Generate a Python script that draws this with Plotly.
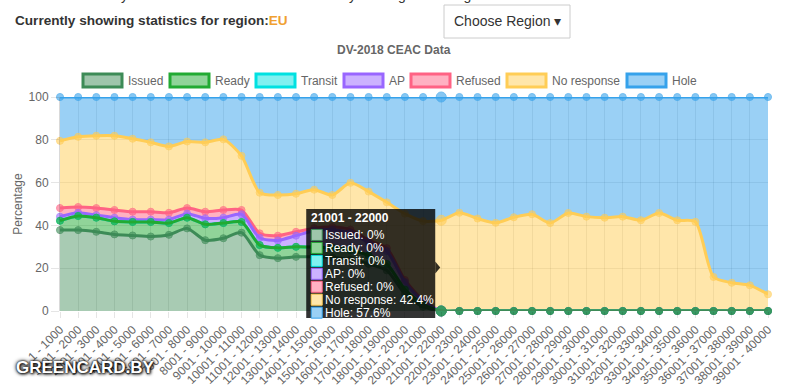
import numpy as np
import plotly.graph_objects as go

# ---------------- data ----------------
categories = [
    "1 - 1000", "1001 - 2000", "2001 - 3000", "3001 - 4000", "4001 - 5000",
    "5001 - 6000", "6001 - 7000", "7001 - 8000", "8001 - 9000", "9001 - 10000",
    "10001 - 11000", "11001 - 12000", "12001 - 13000", "13001 - 14000", "14001 - 15000",
    "15001 - 16000", "16001 - 17000", "17001 - 18000", "18001 - 19000", "19001 - 20000",
    "20001 - 21000", "21001 - 22000", "22001 - 23000", "23001 - 24000", "24001 - 25000",
    "25001 - 26000", "26001 - 27000", "27001 - 28000", "28001 - 29000", "29001 - 30000",
    "30001 - 31000", "31001 - 32000", "32001 - 33000", "33001 - 34000", "34001 - 35000",
    "35001 - 36000", "36001 - 37000", "37001 - 38000", "38001 - 39000", "39001 - 40000",
]

issued = [37.8, 37.8, 37.0, 35.8, 35.3, 34.8, 35.6, 38.6, 33.1, 34.0,
          36.6, 26.1, 24.7, 25.3, 25.3, 25.0, 24.0, 22.0, 19.0, 8.0,
          2.0, 0, 0, 0, 0, 0, 0, 0, 0, 0,
          0, 0, 0, 0, 0, 0, 0, 0, 0, 0]
ready = [4.4, 6.6, 6.6, 6.1, 6.3, 6.8, 5.5, 5.0, 7.4, 7.1,
         5.0, 4.7, 4.8, 4.7, 4.5, 4.5, 4.5, 4.0, 3.0, 2.0,
         1.0, 0, 0, 0, 0, 0, 0, 0, 0, 0,
         0, 0, 0, 0, 0, 0, 0, 0, 0, 0]
transit = [0, 0, 0, 0, 0, 0, 0, 0, 0, 0,
           0, 0, 0, 0, 0, 0, 0, 0, 0, 0,
           0, 0, 0, 0, 0, 0, 0, 0, 0, 0,
           0, 0, 0, 0, 0, 0, 0, 0, 0, 0]
ap = [1.9, 1.5, 1.2, 1.7, 1.1, 1.1, 1.6, 1.9, 2.8, 2.5,
      3.6, 3.4, 3.5, 5.2, 7.7, 8.5, 8.0, 6.0, 6.0, 3.5,
      1.5, 0, 0, 0, 0, 0, 0, 0, 0, 0,
      0, 0, 0, 0, 0, 0, 0, 0, 0, 0]
refused = [4.0, 2.7, 3.3, 3.6, 3.7, 3.7, 3.2, 2.6, 3.1, 3.6,
           2.0, 2.1, 2.2, 1.8, 1.2, 1.2, 1.5, 1.0, 1.4, 1.0,
           0.5, 0, 0, 0, 0, 0, 0, 0, 0, 0,
           0, 0, 0, 0, 0, 0, 0, 0, 0, 0]
no_response = [31.4, 32.8, 33.8, 34.7, 34.1, 32.4, 31.0, 31.1, 32.4, 33.0,
               25.3, 19.0, 19.0, 17.8, 18.0, 15.0, 21.9, 22.8, 21.4, 31.0,
               37.0, 42.4, 45.9, 43.2, 41.2, 43.8, 45.2, 41.1, 45.8, 44.1,
               43.6, 44.1, 42.4, 45.8, 42.4, 41.7, 15.9, 13.2, 12.0, 7.8]
hole = [20.5, 18.6, 18.1, 18.1, 19.5, 21.2, 23.1, 20.8, 21.2, 19.8,
        27.5, 44.7, 45.8, 45.2, 43.3, 45.8, 40.1, 44.2, 49.2, 54.5,
        58.0, 57.6, 54.1, 56.8, 58.8, 56.2, 54.8, 58.9, 54.2, 55.9,
        56.4, 55.9, 57.6, 54.2, 57.6, 58.3, 84.1, 86.8, 88.0, 92.2]

series_names = ["Issued", "Ready", "Transit", "AP", "Refused", "No response", "Hole"]
series_values = [issued, ready, transit, ap, refused, no_response, hole]
y_tick_values = [0, 20, 40, 60, 80, 100]
hover_index = 21  # category under the tooltip

# ---------------- style ----------------
line_rgb = [(61, 139, 87), (34, 170, 51), (0, 225, 225), (153, 102, 255),
            (255, 99, 132), (255, 205, 86), (54, 162, 235)]
fill_alpha = [0.45, 0.5, 0.5, 0.5, 0.5, 0.5, 0.5]
FONT = "Liberation Sans, Arial, Helvetica, sans-serif"
GREY = "#666666"


def rgb(c):
    return "rgb(%d,%d,%d)" % c


def rgba(c, a):
    return "rgba(%d,%d,%d,%.2f)" % (c[0], c[1], c[2], a)


def on_white(c, a):
    return "rgb(%d,%d,%d)" % tuple(round(255 - a * (255 - v)) for v in c)


W, H = 800, 389
ML, MR, MT, MB = 60, 32, 97, 78
PW, PH = W - ML - MR, H - MT - MB


def px(x):
    return (x - ML) / PW


def py(y):
    return (H - MB - y) / PH


fig = go.Figure()

# filled stacked areas
for i, name in enumerate(series_names):
    fig.add_trace(go.Scatter(
        x=categories, y=series_values[i], stackgroup="one", mode="lines",
        line=dict(width=0, shape="spline", smoothing=0.7),
        fillcolor=rgba(line_rgb[i], fill_alpha[i]),
        hoverinfo="skip", showlegend=False, name=name))

# border lines + points, first dataset drawn last (on top)
cum = np.cumsum(np.array(series_values, dtype=float), axis=0)
sizes = [10 if j == hover_index else 7 for j in range(len(categories))]
for i in reversed(range(len(series_names))):
    fig.add_trace(go.Scatter(
        x=categories, y=cum[i], mode="lines+markers",
        line=dict(color=rgb(line_rgb[i]), width=3, shape="spline", smoothing=0.7),
        marker=dict(size=sizes, color=rgba(line_rgb[i], 0.85),
                    line=dict(color=rgb(line_rgb[i]), width=1)),
        cliponaxis=False, showlegend=False, name=series_names[i],
        hoverinfo="skip"))

shapes = []
annotations = []

# ---------------- custom legend (Chart.js style boxes) ----------------
legend_box_left = [83, 170, 256, 344, 411, 507, 627]
for i, name in enumerate(series_names):
    x0 = legend_box_left[i]
    shapes.append(dict(type="rect", xref="paper", yref="paper",
                       x0=px(x0), x1=px(x0 + 39), y0=py(87), y1=py(74),
                       fillcolor=on_white(line_rgb[i], 0.5),
                       line=dict(color=rgb(line_rgb[i]), width=3)))
    annotations.append(dict(xref="paper", yref="paper", x=px(x0 + 43), y=py(80.5),
                            xanchor="left", yanchor="middle", showarrow=False,
                            text=name, font=dict(family=FONT, size=12, color=GREY)))

# chart title
annotations.append(dict(xref="paper", yref="paper", x=px(394), y=py(50),
                        xanchor="center", yanchor="middle", showarrow=False,
                        text="<b>DV-2018 CEAC Data</b>",
                        font=dict(family=FONT, size=12, color=GREY)))

# ---------------- page header ----------------
annotations.append(dict(xref="paper", yref="paper", x=px(14), y=py(-5),
                        xanchor="left", yanchor="middle", showarrow=False,
                        text="Please note that you can disable individual datasets by clicking on the legend.",
                        font=dict(family=FONT, size=14, color="#333333")))
annotations.append(dict(xref="paper", yref="paper", x=px(13), y=py(21),
                        xanchor="left", yanchor="middle", showarrow=False,
                        text="<b>Currently showing statistics for region:<span style='color:#f0a030'>EU</span></b>",
                        font=dict(family=FONT, size=13.6, color="#333333")))
shapes.append(dict(type="rect", xref="paper", yref="paper",
                   x0=px(444), x1=px(570), y0=py(38), y1=py(5),
                   fillcolor="white", line=dict(color="#cccccc", width=1)))
annotations.append(dict(xref="paper", yref="paper", x=px(507), y=py(21),
                        xanchor="center", yanchor="middle", showarrow=False,
                        text="Choose Region \u25BE",
                        font=dict(family=FONT, size=14, color="#333333")))

# ---------------- tooltip at hovered category ----------------
anchor_val = float(cum[:, hover_index].mean())
anchor_paper = anchor_val / 100.0
xcat = categories[hover_index]
shapes.append(dict(type="rect", xref="x", xsizemode="pixel", xanchor=xcat,
                   x0=-135, x1=-6, yref="paper", ysizemode="pixel",
                   yanchor=anchor_paper, y0=-50.5, y1=58.5,
                   fillcolor="rgba(0,0,0,0.8)", line=dict(width=0), layer="above"))
shapes.append(dict(type="path", xref="x", xsizemode="pixel", xanchor=xcat,
                   yref="paper", ysizemode="pixel", yanchor=anchor_paper,
                   path="M -6 6 L -1 0 L -6 -6 Z",
                   fillcolor="rgba(0,0,0,0.8)", line=dict(width=0), layer="above"))
annotations.append(dict(xref="x", x=xcat, yref="paper", y=anchor_paper,
                        xanchor="left", yanchor="middle", xshift=-132, yshift=49.2,
                        showarrow=False, text="<b>%s</b>" % xcat,
                        font=dict(family=FONT, size=12, color="white")))
for k, name in enumerate(series_names):
    off = 32.5 - 12.95 * k
    shapes.append(dict(type="rect", xref="x", xsizemode="pixel", xanchor=xcat,
                       x0=-130, x1=-119, yref="paper", ysizemode="pixel",
                       yanchor=anchor_paper, y0=off - 5.5, y1=off + 5.5,
                       fillcolor=on_white(line_rgb[k], 0.5),
                       line=dict(color=rgb(line_rgb[k]), width=1), layer="above"))
    annotations.append(dict(xref="x", x=xcat, yref="paper", y=anchor_paper,
                            xanchor="left", yanchor="middle", xshift=-117, yshift=off,
                            showarrow=False, borderpad=0,
                            text="%s: %g%%" % (name, series_values[k][hover_index]),
                            font=dict(family=FONT, size=12, color="white")))

# ---------------- watermark ----------------
annotations.append(dict(xref="paper", yref="paper", x=px(14), y=py(368),
                        xanchor="left", yanchor="middle", showarrow=False,
                        text="<b>GREENCARD.BY</b>",
                        font=dict(family=FONT, size=17, color="white",
                                  shadow="0px 0px 2px #000, 0px 0px 4px #000, 1px 1px 3px #000")))

fig.update_layout(
    width=W, height=H,
    margin=dict(l=ML, r=MR, t=MT, b=MB, pad=0, autoexpand=False),
    paper_bgcolor="white", plot_bgcolor="white",
    showlegend=False,
    font=dict(family=FONT, size=12, color=GREY),
    shapes=shapes, annotations=annotations,
    xaxis=dict(type="category", range=[0, len(categories) - 1], automargin=False,
               tickmode="linear", tick0=0, dtick=1, tickangle=-45,
               showgrid=True, gridcolor="rgba(0,0,0,0.1)", gridwidth=1,
               ticks="outside", ticklen=6, tickcolor="rgba(0,0,0,0.1)",
               showline=False, zeroline=False,
               tickfont=dict(family=FONT, size=12, color=GREY)),
    yaxis=dict(range=[0, 100], tickvals=y_tick_values, automargin=False,
               showgrid=True, gridcolor="rgba(0,0,0,0.1)", gridwidth=1,
               ticks="outside", ticklen=8, tickcolor="rgba(0,0,0,0.1)",
               showline=True, linecolor="rgba(0,0,0,0.15)", zeroline=False,
               tickfont=dict(family=FONT, size=12, color=GREY),
               title=dict(text="Percentage", standoff=3,
                          font=dict(family=FONT, size=12, color=GREY))),
    hovermode=False,
)

fig.write_html(
    "out.html",
    config={"displayModeBar": False},
    post_script="document.body.style.margin='0px';document.body.style.overflow='hidden';",
)
